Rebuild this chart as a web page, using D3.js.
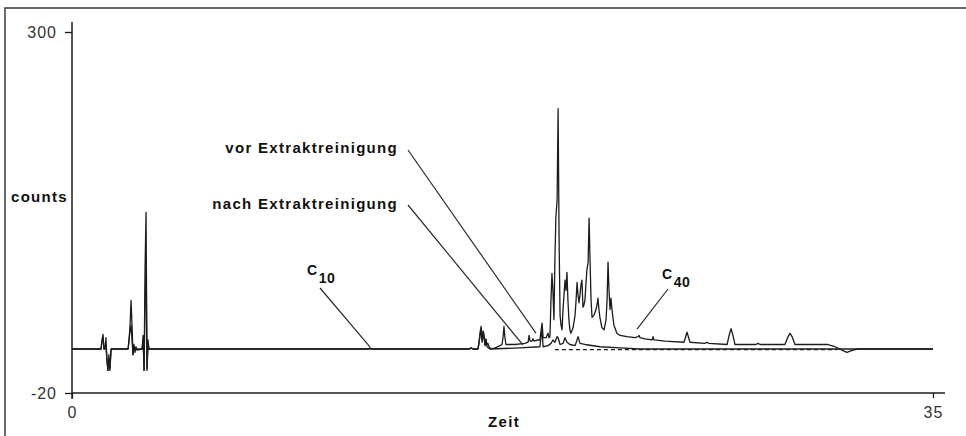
<!DOCTYPE html>
<html><head><meta charset="utf-8">
<script src="https://cdn.jsdelivr.net/npm/d3@7"></script>
<style>
html,body{margin:0;padding:0;background:#fff;overflow:hidden}
svg{display:block}
</style></head><body>
<svg id="chart" width="966" height="436"></svg>
<script>
// ---- data (time in min, counts) ----
const xTicks = [0, 35];
const yTicks = [300, -20];
const xTitle = "Zeit";
const yTitle = "counts";
const seriesNames = ["vor Extraktreinigung", "nach Extraktreinigung"];

const vorTime = [0,1.18,1.22,1.26,1.30,1.34,1.38,1.42,1.46,1.50,1.54,1.59,
  2.28,2.32,2.36,2.40,2.44,2.48,2.52,2.56,2.60,2.64,
  2.85,2.89,2.93,2.97,3.01,3.05,3.09,3.13,
  12.03,12.11,12.20,16.10,16.22,16.30,
  16.50,16.54,16.59,16.63,16.67,16.71,16.75,16.79,16.83,16.87,16.91,16.95,17.03,
  17.20,17.40,17.48,17.52,17.56,17.60,17.64,18.01,18.41,18.54,18.58,18.62,18.70,18.74,18.78,18.94,19.02,
  19.07,19.11,19.15,19.27,19.35,19.39,19.43,19.47,19.51,19.55,19.59,19.63,19.67,19.72,19.76,19.80,19.84,
  19.88,19.92,19.96,20.00,20.04,20.08,20.12,20.16,20.20,20.24,20.28,20.37,20.45,20.49,20.53,20.57,20.61,
  20.65,20.69,20.73,20.77,20.81,20.85,20.89,20.93,20.98,21.02,21.06,21.10,21.14,21.22,21.30,21.34,21.38,
  21.42,21.46,21.54,21.63,21.71,21.75,21.79,21.83,21.87,21.91,21.95,22.03,22.15,22.28,22.56,22.89,
  23.01,23.05,23.09,23.29,23.58,23.62,23.66,24.11,24.88,24.96,25.00,25.04,25.12,25.73,25.81,25.89,
  26.63,26.71,26.79,26.87,26.95,27.80,27.89,27.97,28.98,29.11,29.19,29.27,29.39,30.00,30.69,31.02,
  31.30,31.50,31.75,31.95,35];
const vorCounts = [19,19,27,32,19,19,29,9,0,14,0,19,
  19,27,40,62,40,14,23,16,21,18,
  19,31,0,91,140,0,27,19,
  19,20,19,19,20,19,
  19,23,34,39,27,35,32,23,28,23,24,21,19,
  20,22,23,29,39,29,23,23,24,25,31,26,26,28,26,27,27,
  36,42,29,29,33,29,30,62,86,71,45,98,136,151,232,116,49,
  40,36,54,67,80,71,87,62,45,36,33,38,49,62,78,67,60,
  67,76,80,56,58,62,76,89,96,135,96,62,47,49,54,58,64,
  54,47,38,36,45,62,96,71,54,64,54,40,33,31,30,29,
  30,31,29,28,27,30,27,26,25,31,34,31,25,24,25,24,
  23,31,37,31,23,23,24,23,23,30,33,30,23,23,23,21,
  18,16,18,19,19];

const nachTime = [0,1.18,1.22,1.26,1.30,1.38,1.42,1.46,1.50,1.54,1.59,
  2.28,2.36,2.40,2.44,2.48,2.52,2.60,2.85,2.89,2.93,2.97,3.01,3.05,3.09,3.13,
  16.18,16.22,16.30,16.50,16.59,16.63,16.67,16.71,16.75,16.79,16.83,16.87,16.99,18.21,
  19.02,19.07,19.11,19.15,19.35,19.47,19.55,19.63,19.72,19.76,19.84,19.96,20.04,20.12,20.24,
  20.45,20.53,20.57,20.65,20.85,21.46,22.28,23.09,35];
const nachCounts = [19,19,26,29,19,22,9,0,11,2,19,
  19,36,40,27,14,21,19,19,27,0,62,91,2,23,19,
  19,20,19,19,31,37,25,31,29,22,25,21,19,20,
  21,30,36,21,22,24,27,25,30,29,23,24,29,25,23,
  22,27,30,24,23,21,20,19,19];

// integration baseline (dashed)
const baseTime = [19.63, 31.10];
const baseCounts = [18.5, 18.5];

// ---- drawing ----
const svg = d3.select("#chart");
const x = d3.scaleLinear().domain([0, 35]).range([72, 933]);
const y = d3.scaleLinear().domain([-20, 300]).range([393, 32]);
const ink = "#1c1c1c";
const fmt = d => String(d);

// frame
svg.append("rect").attr("x", 5).attr("y", 8).attr("width", 1100).attr("height", 600)
  .attr("fill", "none").attr("stroke", "#3a3a3a").attr("stroke-width", 1.5);

// axes
const yAxis = svg.append("g").attr("transform", "translate(72,0)")
  .call(d3.axisLeft(y).tickValues(yTicks).tickFormat(fmt).tickSize(7).tickPadding(8).tickSizeOuter(0));
yAxis.select(".domain").remove();
yAxis.selectAll(".tick line").attr("stroke", ink).attr("stroke-width", 1.3);
yAxis.selectAll(".tick text").attr("font-family", "Liberation Sans, Arial, sans-serif")
  .attr("font-size", 16).attr("letter-spacing", "1px").attr("fill", "#333");

const xAxis = svg.append("g").attr("transform", "translate(0,393)")
  .call(d3.axisBottom(x).tickValues(xTicks).tickFormat(fmt).tickSize(5).tickPadding(9).tickSizeOuter(0));
xAxis.select(".domain").remove();
xAxis.selectAll(".tick line").attr("stroke", ink).attr("stroke-width", 1.3);
xAxis.selectAll(".tick text").attr("font-family", "Liberation Sans, Arial, sans-serif")
  .attr("font-size", 16).attr("letter-spacing", "1px").attr("fill", "#333");

// axis lines
svg.append("line").attr("x1", x(0)).attr("x2", x(0)).attr("y1", y(300) - 10).attr("y2", y(-20) + 6)
  .attr("stroke", ink).attr("stroke-width", 1.5);
svg.append("line").attr("x1", x(0)).attr("x2", x(35) + 12).attr("y1", y(-20)).attr("y2", y(-20))
  .attr("stroke", ink).attr("stroke-width", 1.5);

// traces
const line = d3.line().x(d => x(d[0])).y(d => y(d[1]));
const zip = (a, b) => a.map((t, i) => [t, b[i]]);

svg.append("path").datum(zip(baseTime, baseCounts)).attr("d", line)
  .attr("fill", "none").attr("stroke", ink).attr("stroke-width", 1.3).attr("stroke-dasharray", "4,3");
svg.append("path").datum(zip(nachTime, nachCounts)).attr("d", line)
  .attr("fill", "none").attr("stroke", ink).attr("stroke-width", 1.3).attr("stroke-linejoin", "round");
svg.append("path").datum(zip(vorTime, vorCounts)).attr("d", line)
  .attr("fill", "none").attr("stroke", ink).attr("stroke-width", 1.3).attr("stroke-linejoin", "round");

// titles
const bold = sel => sel.attr("font-family", "Liberation Sans, Arial, sans-serif")
  .attr("font-weight", "bold").attr("font-size", 15).attr("letter-spacing", "1.3px").attr("fill", "#111");
svg.append("text").attr("x", 11).attr("y", 202).text(yTitle).call(bold);
svg.append("text").attr("x", 504).attr("y", 427).attr("text-anchor", "middle").text(xTitle).call(bold);

// series annotations
svg.append("text").attr("x", 398).attr("y", 153).attr("text-anchor", "end").text(seriesNames[0]).call(bold);
svg.append("text").attr("x", 398).attr("y", 209).attr("text-anchor", "end").text(seriesNames[1]).call(bold);
const leader = (x1, y1, x2, y2) => svg.append("line").attr("x1", x1).attr("y1", y1).attr("x2", x2).attr("y2", y2)
  .attr("stroke", "#2a2a2a").attr("stroke-width", 1.2);
leader(408, 150, x(18.86), y(33));
leader(408, 205, x(18.33), y(22.6));

// C10 / C40 markers
function cLabel(cx, cy, sub) {
  const t = svg.append("text").attr("x", cx).attr("y", cy).call(bold).attr("letter-spacing", "0.5px").attr("font-size", 14);
  t.append("tspan").text("C");
  t.append("tspan").attr("dy", 8).attr("dx", 1).text(sub);
}
cLabel(307, 275, "10");
leader(320, 288, x(12.11), y(20.8));
cLabel(662, 279, "40");
leader(668, 289, x(22.97), y(36.7));
</script>
</body></html>
